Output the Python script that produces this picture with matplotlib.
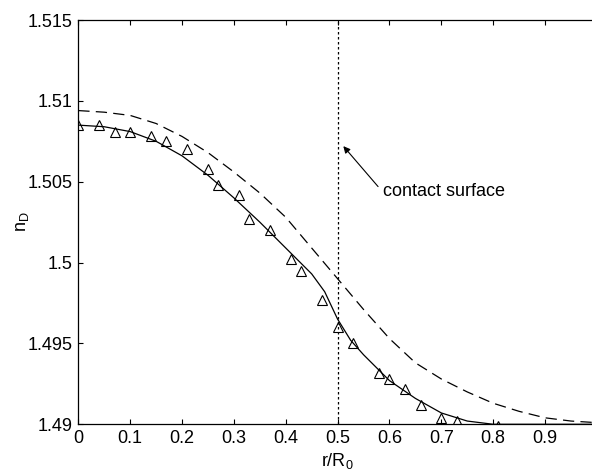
import matplotlib
matplotlib.use("Agg")
import matplotlib.pyplot as plt
import numpy as np

plt.rcParams["font.family"] = ["Liberation Sans", "DejaVu Sans"]
plt.rcParams["mathtext.default"] = "regular"

# measured refractive index (triangles)
meas_r = [0.00, 0.04, 0.07, 0.10, 0.14, 0.17, 0.21, 0.25, 0.27, 0.31, 0.33, 0.37,
          0.41, 0.43, 0.47, 0.50, 0.53, 0.58, 0.60, 0.63, 0.66, 0.70, 0.73, 0.81]
meas_n = [1.5085, 1.5085, 1.5081, 1.5081, 1.5078, 1.5075, 1.5070, 1.5058, 1.5048,
          1.5042, 1.5027, 1.5020, 1.5002, 1.4995, 1.4977, 1.4960, 1.4950, 1.4932,
          1.4928, 1.4922, 1.4912, 1.4904, 1.4902, 1.4899]

# solid curve
solid_r = [0.0, 0.05, 0.1, 0.15, 0.2, 0.25, 0.3, 0.35, 0.4, 0.45, 0.475, 0.5,
           0.525, 0.55, 0.6, 0.65, 0.7, 0.75, 0.8, 0.85, 0.9, 0.95, 1.0]
solid_n = [1.5085, 1.5084, 1.5081, 1.5075, 1.5066, 1.5054, 1.5040, 1.5025, 1.5009,
           1.4993, 1.4982, 1.4965, 1.4952, 1.4943, 1.4927, 1.4916, 1.4907, 1.4902,
           1.4900, 1.4900, 1.4900, 1.4900, 1.4900]

# dashed curve
dash_r = [0.0, 0.05, 0.1, 0.15, 0.2, 0.25, 0.3, 0.35, 0.4, 0.45, 0.5, 0.55, 0.6,
          0.65, 0.7, 0.75, 0.8, 0.85, 0.9, 0.95, 1.0]
dash_n = [1.5094, 1.5093, 1.5091, 1.5086, 1.5078, 1.5068, 1.5056, 1.5043, 1.5028,
          1.5009, 1.4990, 1.4971, 1.4953, 1.4938, 1.4928, 1.4920, 1.4913, 1.4908,
          1.4904, 1.4902, 1.4901]

contact_r = 0.5
xticks = [0, 0.1, 0.2, 0.3, 0.4, 0.5, 0.6, 0.7, 0.8, 0.9]
xtick_labels = ["0", "0.1", "0.2", "0.3", "0.4", "0.5", "0.6", "0.7", "0.8", "0.9"]
yticks = [1.49, 1.495, 1.5, 1.505, 1.51, 1.515]
ytick_labels = ["1.49", "1.495", "1.5", "1.505", "1.51", "1.515"]

fig = plt.figure(figsize=(5.92, 4.72), dpi=100)
ax = fig.add_axes([0.1323, 0.1011, 0.876, 0.8565])

ax.plot(dash_r, dash_n, color="black", lw=0.9, linestyle=(0, (9, 5)))
ax.plot(solid_r, solid_n, color="black", lw=0.9)
ax.plot(meas_r, meas_n, linestyle="none", marker="^", ms=7.5,
        mfc="none", mec="black", mew=0.8)
ax.axvline(contact_r, color="black", lw=0.9, linestyle=(0, (2, 2)))

ax.annotate("", xy=(0.511, 1.5072), xytext=(0.578, 1.5047),
            arrowprops=dict(arrowstyle="-|>", color="black", lw=0.8,
                            mutation_scale=10, shrinkA=0, shrinkB=0))
ax.text(0.587, 1.5044, "contact surface", fontsize=13, va="center", ha="left")

ax.set_xlim(0, 1)
ax.set_ylim(1.49, 1.515)
ax.set_xticks(xticks)
ax.set_xticklabels(xtick_labels)
ax.set_yticks(yticks)
ax.set_yticklabels(ytick_labels)
ax.tick_params(direction="in", top=True, right=True, length=3.6, width=0.8,
               labelsize=13, pad=4)
for s in ax.spines.values():
    s.set_linewidth(0.9)

ax.set_xlabel("r/R$_0$", fontsize=13, labelpad=3)
ax.set_ylabel("n$_D$", fontsize=13, labelpad=-2.5)

fig.savefig("out.png", dpi=100)
